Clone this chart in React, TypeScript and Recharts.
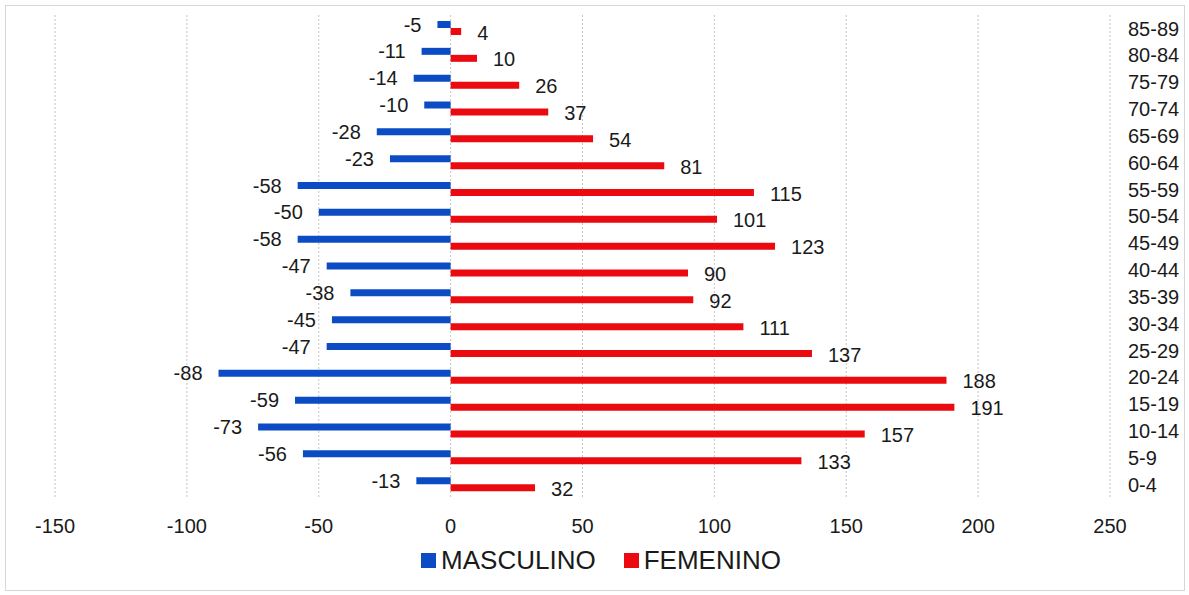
import { BarChart, Bar, XAxis, YAxis, CartesianGrid, Legend, LabelList } from "recharts";

const groups = ["0-4", "5-9", "10-14", "15-19", "20-24", "25-29", "30-34", "35-39", "40-44", "45-49", "50-54", "55-59", "60-64", "65-69", "70-74", "75-79", "80-84", "85-89"];
const masculino = [-13, -56, -73, -59, -88, -47, -45, -38, -47, -58, -50, -58, -23, -28, -10, -14, -11, -5];
const femenino = [32, 133, 157, 191, 188, 137, 111, 92, 90, 123, 101, 115, 81, 54, 37, 26, 10, 4];
const xTicks = [-150, -100, -50, 0, 50, 100, 150, 200, 250];

const BLUE = "#0b4cc4";
const RED = "#ea0a10";
const TEXT = "#1a1a1a";
const FONT = "'Liberation Sans', Arial, sans-serif";

const data = groups.map((g, i) => ({ group: g, masculino: masculino[i], femenino: femenino[i] }));

const legendItems = [
  { name: "MASCULINO", color: BLUE },
  { name: "FEMENINO", color: RED },
];

function renderLegend() {
  return (
    <div style={{ display: "flex", justifyContent: "center", alignItems: "center", paddingRight: 33, paddingTop: 7, fontFamily: FONT }}>
      {legendItems.map((it, i) => (
        <div key={it.name} style={{ display: "flex", alignItems: "center", marginLeft: i === 0 ? 0 : 28 }}>
          <span style={{ width: 15, height: 15, background: it.color, display: "inline-block", marginRight: 5 }} />
          <span style={{ fontSize: 26, color: TEXT }}>{it.name}</span>
        </div>
      ))}
    </div>
  );
}

export default function App() {
  return (
    <div style={{ position: "absolute", left: 0, top: 0, width: 1189, height: 595, background: "#fff" }}>
      <div style={{ position: "absolute", left: 5, top: 5, width: 1178, height: 584, border: "1px solid #d6d6d6" }} />
      <BarChart
        width={1189}
        height={595}
        data={data}
        layout="vertical"
        barSize={7}
        barGap={0}
        margin={{ top: 15, right: 9, left: 55, bottom: 10 }}
        style={{ fontFamily: FONT }}
      >
        <CartesianGrid horizontal={false} stroke="#c4c4c4" strokeDasharray="2 2" />
        <XAxis
          type="number"
          domain={[-150, 250]}
          ticks={xTicks}
          axisLine={false}
          tickLine={false}
          tickSize={0}
          tickMargin={21}
          height={40}
          interval={0}
          tick={{ fontSize: 20, fill: TEXT }}
        />
        <YAxis
          type="category"
          dataKey="group"
          orientation="right"
          reversed
          width={70}
          axisLine={false}
          tickLine={false}
          tickSize={0}
          tickMargin={18}
          interval={0}
          tick={{ fontSize: 20, fill: TEXT }}
        />
        <Legend verticalAlign="bottom" height={47} content={renderLegend} />
        <Bar dataKey="masculino" name="MASCULINO" fill={BLUE} isAnimationActive={false}>
          <LabelList dataKey="masculino" position="right" offset={16} fill={TEXT} fontSize={20} />
        </Bar>
        <Bar dataKey="femenino" name="FEMENINO" fill={RED} isAnimationActive={false}>
          <LabelList dataKey="femenino" position="right" offset={16} dy={1} fill={TEXT} fontSize={20} />
        </Bar>
      </BarChart>
    </div>
  );
}
